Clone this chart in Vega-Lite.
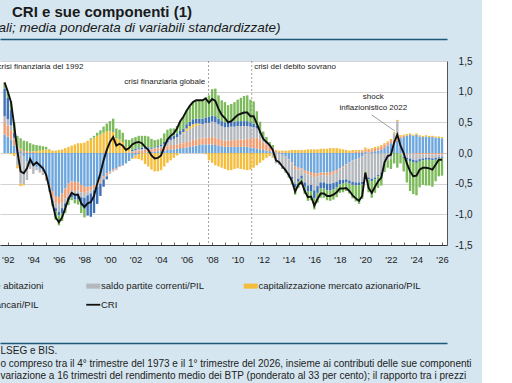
{
"$schema": "https://vega.github.io/schema/vega-lite/v6.json",
"width": 447, "height": 184,
"autosize": {"type": "none"},
"padding": {"left": 0, "top": 61, "right": 35, "bottom": 138},
"background": "#d5e6f0",
"config": {"font": "Liberation Sans", "view": {"fill": "white", "stroke": null}, "axisY": {"labelOverlap": false}, "axis": {"labelOverlap": false}},
"title": {"text": "CRI e sue componenti (1)", "subtitle": "(dati trimestrali; media ponderata di variabili standardizzate)", "anchor": "middle", "dx": -121.5, "font": "Liberation Sans", "fontSize": 15, "fontWeight": "bold", "color": "#1a1a1a", "subtitleFont": "Liberation Sans", "subtitleFontSize": 13.5, "subtitleFontStyle": "italic", "subtitleColor": "#1a1a1a", "offset": 5, "subtitlePadding": 1},
"datasets": {
"ord": [
{"comp": "abitazioni", "label": "prezzi delle abitazioni", "o": 1},
{"comp": "btp", "label": "variazione rendimento BTP", "o": 2},
{"comp": "saldo", "label": "saldo partite correnti/PIL", "o": 3},
{"comp": "borsa", "label": "capitalizzazione mercato azionario/PIL", "o": 4},
{"comp": "famiglie", "label": "debito delle famiglie/PIL", "o": 5},
{"comp": "credito", "label": "impieghi bancari/PIL", "o": 6}
],
"eventi": [{"t": 2007.72}, {"t": 2011.1}],
"note_sx": [{"t": 1991.2, "v": 1.407, "testo": "crisi finanziaria del 1992"}, {"t": 2011.29, "v": 1.407, "testo": "crisi del debito sovrano"}],
"note_dx": [{"t": 2007.46, "v": 1.15, "testo": "crisi finanziaria globale"}],
"note_c": [{"t": 2020.62, "v": 0.92, "testo": "shock"}, {"t": 2020.62, "v": 0.73, "testo": "inflazionistico 2022"}],
"freccia": [{"t": 2020.5, "v": 0.62, "t2": 2022.3, "v2": 0.36}],
"q": [
{"t":1991.75,"abitazioni":0.30,"btp":0.20,"saldo":0.10,"borsa":0,"famiglie":0.45,"credito":0.10,"cri":1.15},
{"t":1992.0,"abitazioni":0.27,"btp":0.18,"saldo":0.10,"borsa":0,"famiglie":0.35,"credito":0.10,"cri":1.00},
{"t":1992.25,"abitazioni":0.22,"btp":0.15,"saldo":0.08,"borsa":-0.02,"famiglie":0.25,"credito":0.15,"cri":0.83},
{"t":1992.5,"abitazioni":0.12,"btp":0.10,"saldo":0.03,"borsa":-0.05,"famiglie":0.08,"credito":0.17,"cri":0.45},
{"t":1992.75,"abitazioni":0.06,"btp":0.05,"saldo":-0.20,"borsa":-0.05,"famiglie":0,"credito":0.17,"cri":0.03},
{"t":1993.0,"abitazioni":0.03,"btp":0.04,"saldo":-0.50,"borsa":-0.04,"famiglie":0,"credito":0.17,"cri":-0.30},
{"t":1993.25,"abitazioni":-0.06,"btp":0.03,"saldo":-0.45,"borsa":-0.02,"famiglie":0,"credito":0.17,"cri":-0.33},
{"t":1993.5,"abitazioni":-0.14,"btp":0.03,"saldo":-0.30,"borsa":0,"famiglie":0,"credito":0.16,"cri":-0.25},
{"t":1993.75,"abitazioni":-0.18,"btp":0.02,"saldo":-0.08,"borsa":0,"famiglie":0,"credito":0.14,"cri":-0.10},
{"t":1994.0,"abitazioni":-0.22,"btp":0.02,"saldo":-0.12,"borsa":0.01,"famiglie":0,"credito":0.11,"cri":-0.20},
{"t":1994.25,"abitazioni":-0.23,"btp":0,"saldo":-0.05,"borsa":0.03,"famiglie":0,"credito":0.10,"cri":-0.15},
{"t":1994.5,"abitazioni":-0.26,"btp":0,"saldo":-0.06,"borsa":0.04,"famiglie":0,"credito":0.08,"cri":-0.20},
{"t":1994.75,"abitazioni":-0.30,"btp":-0.02,"saldo":-0.04,"borsa":0.05,"famiglie":0,"credito":0.06,"cri":-0.25},
{"t":1995.0,"abitazioni":-0.38,"btp":-0.04,"saldo":-0.03,"borsa":0.06,"famiglie":0,"credito":0.04,"cri":-0.35},
{"t":1995.25,"abitazioni":-0.52,"btp":-0.06,"saldo":-0.05,"borsa":0.05,"famiglie":0,"credito":0.01,"cri":-0.57},
{"t":1995.5,"abitazioni":-0.62,"btp":-0.08,"saldo":-0.08,"borsa":0.04,"famiglie":-0.03,"credito":-0.05,"cri":-0.82},
{"t":1995.75,"abitazioni":-0.70,"btp":-0.10,"saldo":-0.10,"borsa":0.04,"famiglie":-0.05,"credito":-0.14,"cri":-1.05},
{"t":1996.0,"abitazioni":-0.72,"btp":-0.12,"saldo":-0.12,"borsa":0.05,"famiglie":-0.06,"credito":-0.16,"cri":-1.13},
{"t":1996.25,"abitazioni":-0.66,"btp":-0.14,"saldo":-0.10,"borsa":0.06,"famiglie":-0.08,"credito":-0.13,"cri":-1.05},
{"t":1996.5,"abitazioni":-0.58,"btp":-0.16,"saldo":-0.08,"borsa":0.08,"famiglie":-0.06,"credito":-0.10,"cri":-0.90},
{"t":1996.75,"abitazioni":-0.50,"btp":-0.17,"saldo":-0.05,"borsa":0.10,"famiglie":-0.05,"credito":-0.08,"cri":-0.75},
{"t":1997.0,"abitazioni":-0.46,"btp":-0.16,"saldo":-0.05,"borsa":0.12,"famiglie":-0.05,"credito":-0.05,"cri":-0.65},
{"t":1997.25,"abitazioni":-0.47,"btp":-0.15,"saldo":-0.06,"borsa":0.14,"famiglie":-0.08,"credito":-0.06,"cri":-0.68},
{"t":1997.5,"abitazioni":-0.48,"btp":-0.13,"saldo":-0.05,"borsa":0.16,"famiglie":-0.10,"credito":-0.08,"cri":-0.68},
{"t":1997.75,"abitazioni":-0.52,"btp":-0.12,"saldo":-0.08,"borsa":0.16,"famiglie":-0.14,"credito":-0.12,"cri":-0.82},
{"t":1998.0,"abitazioni":-0.55,"btp":-0.10,"saldo":-0.08,"borsa":0.17,"famiglie":-0.18,"credito":-0.14,"cri":-0.88},
{"t":1998.25,"abitazioni":-0.55,"btp":-0.08,"saldo":-0.06,"borsa":0.20,"famiglie":-0.33,"credito":0,"cri":-0.82},
{"t":1998.5,"abitazioni":-0.55,"btp":-0.06,"saldo":-0.05,"borsa":0.22,"famiglie":-0.38,"credito":0.02,"cri":-0.80},
{"t":1998.75,"abitazioni":-0.52,"btp":-0.05,"saldo":-0.04,"borsa":0.25,"famiglie":-0.37,"credito":0.03,"cri":-0.70},
{"t":1999.0,"abitazioni":-0.48,"btp":-0.04,"saldo":-0.03,"borsa":0.28,"famiglie":-0.28,"credito":0.05,"cri":-0.50},
{"t":1999.25,"abitazioni":-0.43,"btp":-0.04,"saldo":-0.03,"borsa":0.30,"famiglie":-0.20,"credito":0.07,"cri":-0.33},
{"t":1999.5,"abitazioni":-0.38,"btp":-0.03,"saldo":-0.02,"borsa":0.33,"famiglie":-0.12,"credito":0.10,"cri":-0.12},
{"t":1999.75,"abitazioni":-0.33,"btp":-0.03,"saldo":-0.02,"borsa":0.35,"famiglie":-0.05,"credito":0.13,"cri":0.05},
{"t":2000.0,"abitazioni":-0.30,"btp":-0.02,"saldo":-0.02,"borsa":0.36,"famiglie":0,"credito":0.16,"cri":0.18},
{"t":2000.25,"abitazioni":-0.27,"btp":-0.02,"saldo":-0.01,"borsa":0.35,"famiglie":0.02,"credito":0.19,"cri":0.26},
{"t":2000.5,"abitazioni":-0.25,"btp":-0.02,"saldo":-0.01,"borsa":0.24,"famiglie":0,"credito":0.16,"cri":0.12},
{"t":2000.75,"abitazioni":-0.22,"btp":-0.01,"saldo":0,"borsa":0.22,"famiglie":0,"credito":0.16,"cri":0.15},
{"t":2001.0,"abitazioni":-0.20,"btp":-0.01,"saldo":0,"borsa":0.18,"famiglie":0,"credito":0.15,"cri":0.12},
{"t":2001.25,"abitazioni":-0.17,"btp":0,"saldo":0,"borsa":0.10,"famiglie":0,"credito":0.12,"cri":0.05},
{"t":2001.5,"abitazioni":-0.13,"btp":0.01,"saldo":0.01,"borsa":0.05,"famiglie":0,"credito":0.14,"cri":0.08},
{"t":2001.75,"abitazioni":-0.08,"btp":0.02,"saldo":0.01,"borsa":-0.02,"famiglie":0.02,"credito":0.19,"cri":0.14},
{"t":2002.0,"abitazioni":-0.04,"btp":0.03,"saldo":0.02,"borsa":-0.05,"famiglie":0.02,"credito":0.19,"cri":0.17},
{"t":2002.25,"abitazioni":-0.02,"btp":0.04,"saldo":0.03,"borsa":-0.08,"famiglie":0.02,"credito":0.19,"cri":0.18},
{"t":2002.5,"abitazioni":0,"btp":0.04,"saldo":0.02,"borsa":-0.12,"famiglie":0.03,"credito":0.19,"cri":0.16},
{"t":2002.75,"abitazioni":0.01,"btp":0.04,"saldo":0.02,"borsa":-0.18,"famiglie":0.03,"credito":0.18,"cri":0.10},
{"t":2003.0,"abitazioni":0.02,"btp":0.04,"saldo":0.01,"borsa":-0.22,"famiglie":0.02,"credito":0.18,"cri":0.05},
{"t":2003.25,"abitazioni":0.02,"btp":0.04,"saldo":0.01,"borsa":-0.27,"famiglie":0.02,"credito":0.14,"cri":-0.04},
{"t":2003.5,"abitazioni":0.02,"btp":0.05,"saldo":0.01,"borsa":-0.30,"famiglie":0.01,"credito":0.12,"cri":-0.09},
{"t":2003.75,"abitazioni":0.03,"btp":0.05,"saldo":0.02,"borsa":-0.30,"famiglie":0.02,"credito":0.10,"cri":-0.08},
{"t":2004.0,"abitazioni":0.03,"btp":0.05,"saldo":0.03,"borsa":-0.28,"famiglie":0.03,"credito":0.10,"cri":-0.04},
{"t":2004.25,"abitazioni":0.04,"btp":0.06,"saldo":0.04,"borsa":-0.22,"famiglie":0.04,"credito":0.14,"cri":0.10},
{"t":2004.5,"abitazioni":0.05,"btp":0.06,"saldo":0.06,"borsa":-0.16,"famiglie":0.05,"credito":0.16,"cri":0.22},
{"t":2004.75,"abitazioni":0.06,"btp":0.07,"saldo":0.08,"borsa":-0.12,"famiglie":0.05,"credito":0.14,"cri":0.28},
{"t":2005.0,"abitazioni":0.06,"btp":0.07,"saldo":0.10,"borsa":-0.08,"famiglie":0.05,"credito":0.12,"cri":0.32},
{"t":2005.25,"abitazioni":0.07,"btp":0.07,"saldo":0.12,"borsa":-0.04,"famiglie":0.06,"credito":0.12,"cri":0.40},
{"t":2005.5,"abitazioni":0.08,"btp":0.08,"saldo":0.14,"borsa":0,"famiglie":0.06,"credito":0.16,"cri":0.52},
{"t":2005.75,"abitazioni":0.08,"btp":0.08,"saldo":0.16,"borsa":0.02,"famiglie":0.06,"credito":0.19,"cri":0.59},
{"t":2006.0,"abitazioni":0.09,"btp":0.09,"saldo":0.18,"borsa":0.04,"famiglie":0.07,"credito":0.22,"cri":0.69},
{"t":2006.25,"abitazioni":0.10,"btp":0.09,"saldo":0.20,"borsa":0.05,"famiglie":0.07,"credito":0.26,"cri":0.77},
{"t":2006.5,"abitazioni":0.11,"btp":0.10,"saldo":0.21,"borsa":0.05,"famiglie":0.08,"credito":0.28,"cri":0.83},
{"t":2006.75,"abitazioni":0.12,"btp":0.10,"saldo":0.22,"borsa":0.04,"famiglie":0.08,"credito":0.30,"cri":0.86},
{"t":2007.0,"abitazioni":0.13,"btp":0.10,"saldo":0.23,"borsa":0.02,"famiglie":0.08,"credito":0.30,"cri":0.86},
{"t":2007.25,"abitazioni":0.14,"btp":0.10,"saldo":0.23,"borsa":0,"famiglie":0.09,"credito":0.30,"cri":0.86},
{"t":2007.5,"abitazioni":0.14,"btp":0.11,"saldo":0.24,"borsa":-0.02,"famiglie":0.09,"credito":0.33,"cri":0.89},
{"t":2007.75,"abitazioni":0.14,"btp":0.11,"saldo":0.24,"borsa":-0.12,"famiglie":0.10,"credito":0.35,"cri":0.82},
{"t":2008.0,"abitazioni":0.14,"btp":0.12,"saldo":0.25,"borsa":-0.16,"famiglie":0.10,"credito":0.43,"cri":0.88},
{"t":2008.25,"abitazioni":0.13,"btp":0.12,"saldo":0.25,"borsa":-0.20,"famiglie":0.10,"credito":0.45,"cri":0.85},
{"t":2008.5,"abitazioni":0.12,"btp":0.11,"saldo":0.24,"borsa":-0.22,"famiglie":0.09,"credito":0.38,"cri":0.72},
{"t":2008.75,"abitazioni":0.11,"btp":0.10,"saldo":0.23,"borsa":-0.24,"famiglie":0.08,"credito":0.34,"cri":0.62},
{"t":2009.0,"abitazioni":0.10,"btp":0.10,"saldo":0.22,"borsa":-0.26,"famiglie":0.08,"credito":0.33,"cri":0.57},
{"t":2009.25,"abitazioni":0.10,"btp":0.10,"saldo":0.22,"borsa":-0.28,"famiglie":0.07,"credito":0.29,"cri":0.50},
{"t":2009.5,"abitazioni":0.10,"btp":0.11,"saldo":0.22,"borsa":-0.28,"famiglie":0.08,"credito":0.29,"cri":0.52},
{"t":2009.75,"abitazioni":0.10,"btp":0.11,"saldo":0.22,"borsa":-0.26,"famiglie":0.08,"credito":0.32,"cri":0.57},
{"t":2010.0,"abitazioni":0.10,"btp":0.12,"saldo":0.22,"borsa":-0.25,"famiglie":0.08,"credito":0.35,"cri":0.62},
{"t":2010.25,"abitazioni":0.10,"btp":0.12,"saldo":0.22,"borsa":-0.26,"famiglie":0.08,"credito":0.38,"cri":0.64},
{"t":2010.5,"abitazioni":0.10,"btp":0.12,"saldo":0.22,"borsa":-0.27,"famiglie":0.08,"credito":0.41,"cri":0.66},
{"t":2010.75,"abitazioni":0.10,"btp":0.13,"saldo":0.21,"borsa":-0.28,"famiglie":0.08,"credito":0.42,"cri":0.66},
{"t":2011.0,"abitazioni":0.09,"btp":0.14,"saldo":0.20,"borsa":-0.27,"famiglie":0.07,"credito":0.37,"cri":0.60},
{"t":2011.25,"abitazioni":0.08,"btp":0.16,"saldo":0.18,"borsa":-0.24,"famiglie":0.06,"credito":0.36,"cri":0.60},
{"t":2011.5,"abitazioni":0.07,"btp":0.18,"saldo":0.15,"borsa":-0.20,"famiglie":0.05,"credito":0.23,"cri":0.48},
{"t":2011.75,"abitazioni":0.06,"btp":0.16,"saldo":0.10,"borsa":-0.16,"famiglie":0.04,"credito":0.15,"cri":0.35},
{"t":2012.0,"abitazioni":0.05,"btp":0.12,"saldo":0.06,"borsa":-0.12,"famiglie":0.03,"credito":0.09,"cri":0.23},
{"t":2012.25,"abitazioni":0.04,"btp":0.10,"saldo":0.03,"borsa":-0.08,"famiglie":0.02,"credito":0.07,"cri":0.18},
{"t":2012.5,"abitazioni":0.03,"btp":0.08,"saldo":0,"borsa":-0.05,"famiglie":0.02,"credito":0.05,"cri":0.13},
{"t":2012.75,"abitazioni":0.02,"btp":0.06,"saldo":-0.06,"borsa":-0.02,"famiglie":0.01,"credito":0.04,"cri":0.05},
{"t":2013.0,"abitazioni":0.01,"btp":0.03,"saldo":-0.17,"borsa":0.01,"famiglie":0,"credito":0,"cri":-0.12},
{"t":2013.25,"abitazioni":0,"btp":0.02,"saldo":-0.18,"borsa":0.02,"famiglie":0,"credito":-0.01,"cri":-0.15},
{"t":2013.5,"abitazioni":-0.03,"btp":0.01,"saldo":-0.20,"borsa":0.03,"famiglie":-0.01,"credito":-0.02,"cri":-0.22},
{"t":2013.75,"abitazioni":-0.06,"btp":0,"saldo":-0.22,"borsa":0.04,"famiglie":-0.02,"credito":-0.02,"cri":-0.28},
{"t":2014.0,"abitazioni":-0.10,"btp":-0.01,"saldo":-0.22,"borsa":0.04,"famiglie":-0.03,"credito":-0.04,"cri":-0.36},
{"t":2014.25,"abitazioni":-0.15,"btp":-0.02,"saldo":-0.22,"borsa":0.05,"famiglie":-0.04,"credito":-0.08,"cri":-0.46},
{"t":2014.5,"abitazioni":-0.22,"btp":-0.04,"saldo":-0.24,"borsa":0.05,"famiglie":-0.06,"credito":-0.12,"cri":-0.63},
{"t":2014.75,"abitazioni":-0.24,"btp":-0.03,"saldo":-0.15,"borsa":0.05,"famiglie":-0.05,"credito":-0.10,"cri":-0.52},
{"t":2015.0,"abitazioni":-0.25,"btp":-0.02,"saldo":-0.10,"borsa":0.05,"famiglie":-0.05,"credito":-0.10,"cri":-0.47},
{"t":2015.25,"abitazioni":-0.28,"btp":-0.04,"saldo":-0.16,"borsa":0.05,"famiglie":-0.07,"credito":-0.12,"cri":-0.62},
{"t":2015.5,"abitazioni":-0.30,"btp":-0.05,"saldo":-0.18,"borsa":0.06,"famiglie":-0.10,"credito":-0.15,"cri":-0.72},
{"t":2015.75,"abitazioni":-0.31,"btp":-0.05,"saldo":-0.16,"borsa":0.06,"famiglie":-0.10,"credito":-0.15,"cri":-0.71},
{"t":2016.0,"abitazioni":-0.33,"btp":-0.06,"saldo":-0.22,"borsa":0.06,"famiglie":-0.13,"credito":-0.18,"cri":-0.86},
{"t":2016.25,"abitazioni":-0.33,"btp":-0.05,"saldo":-0.16,"borsa":0.06,"famiglie":-0.11,"credito":-0.16,"cri":-0.75},
{"t":2016.5,"abitazioni":-0.32,"btp":-0.04,"saldo":-0.12,"borsa":0.07,"famiglie":-0.10,"credito":-0.15,"cri":-0.66},
{"t":2016.75,"abitazioni":-0.32,"btp":-0.04,"saldo":-0.12,"borsa":0.07,"famiglie":-0.10,"credito":-0.15,"cri":-0.66},
{"t":2017.0,"abitazioni":-0.32,"btp":-0.05,"saldo":-0.13,"borsa":0.07,"famiglie":-0.11,"credito":-0.16,"cri":-0.70},
{"t":2017.25,"abitazioni":-0.31,"btp":-0.05,"saldo":-0.14,"borsa":0.08,"famiglie":-0.11,"credito":-0.17,"cri":-0.70},
{"t":2017.5,"abitazioni":-0.30,"btp":-0.04,"saldo":-0.15,"borsa":0.08,"famiglie":-0.10,"credito":-0.17,"cri":-0.68},
{"t":2017.75,"abitazioni":-0.28,"btp":-0.03,"saldo":-0.16,"borsa":0.08,"famiglie":-0.09,"credito":-0.16,"cri":-0.64},
{"t":2018.0,"abitazioni":-0.25,"btp":-0.02,"saldo":-0.17,"borsa":0.07,"famiglie":-0.07,"credito":-0.14,"cri":-0.58},
{"t":2018.25,"abitazioni":-0.22,"btp":-0.02,"saldo":-0.20,"borsa":0.06,"famiglie":-0.06,"credito":-0.14,"cri":-0.58},
{"t":2018.5,"abitazioni":-0.18,"btp":-0.01,"saldo":-0.24,"borsa":0.05,"famiglie":-0.05,"credito":-0.14,"cri":-0.57},
{"t":2018.75,"abitazioni":-0.15,"btp":0,"saldo":-0.30,"borsa":0.04,"famiglie":-0.05,"credito":-0.16,"cri":-0.62},
{"t":2019.0,"abitazioni":-0.12,"btp":0.01,"saldo":-0.35,"borsa":0.04,"famiglie":-0.05,"credito":-0.22,"cri":-0.69},
{"t":2019.25,"abitazioni":-0.10,"btp":0.02,"saldo":-0.38,"borsa":0.03,"famiglie":-0.05,"credito":-0.26,"cri":-0.74},
{"t":2019.5,"abitazioni":-0.08,"btp":0.03,"saldo":-0.40,"borsa":0.02,"famiglie":-0.05,"credito":-0.30,"cri":-0.78},
{"t":2019.75,"abitazioni":-0.05,"btp":0.03,"saldo":-0.42,"borsa":0.02,"famiglie":-0.04,"credito":-0.24,"cri":-0.70},
{"t":2020.0,"abitazioni":0.02,"btp":0.04,"saldo":-0.30,"borsa":0.03,"famiglie":0,"credito":-0.11,"cri":-0.32},
{"t":2020.25,"abitazioni":0.01,"btp":0.04,"saldo":-0.40,"borsa":0.02,"famiglie":-0.03,"credito":-0.21,"cri":-0.57},
{"t":2020.5,"abitazioni":0.02,"btp":0.04,"saldo":-0.42,"borsa":0.02,"famiglie":-0.04,"credito":-0.27,"cri":-0.65},
{"t":2020.75,"abitazioni":0.03,"btp":0.05,"saldo":-0.40,"borsa":0.02,"famiglie":-0.03,"credito":-0.22,"cri":-0.55},
{"t":2021.0,"abitazioni":0.04,"btp":0.05,"saldo":-0.36,"borsa":0.02,"famiglie":-0.02,"credito":-0.19,"cri":-0.46},
{"t":2021.25,"abitazioni":0.05,"btp":0.06,"saldo":-0.32,"borsa":0.02,"famiglie":-0.02,"credito":-0.19,"cri":-0.40},
{"t":2021.5,"abitazioni":0.08,"btp":0.06,"saldo":-0.18,"borsa":0.02,"famiglie":0,"credito":-0.13,"cri":-0.15},
{"t":2021.75,"abitazioni":0.12,"btp":0.05,"saldo":-0.12,"borsa":0.02,"famiglie":0,"credito":-0.12,"cri":-0.05},
{"t":2022.0,"abitazioni":0.16,"btp":0.05,"saldo":-0.10,"borsa":0.02,"famiglie":0,"credito":-0.16,"cri":-0.03},
{"t":2022.25,"abitazioni":0.18,"btp":0.04,"saldo":0.10,"borsa":0.02,"famiglie":0,"credito":-0.17,"cri":0.17},
{"t":2022.5,"abitazioni":0.20,"btp":0.04,"saldo":0.28,"borsa":0.02,"famiglie":0,"credito":-0.24,"cri":0.30},
{"t":2022.75,"abitazioni":0.24,"btp":0.03,"saldo":-0.02,"borsa":0.02,"famiglie":0,"credito":-0.15,"cri":0.12},
{"t":2023.0,"abitazioni":0.26,"btp":0.02,"saldo":-0.06,"borsa":0.02,"famiglie":-0.02,"credito":-0.22,"cri":0},
{"t":2023.25,"abitazioni":0.28,"btp":0.01,"saldo":-0.08,"borsa":0.02,"famiglie":-0.03,"credito":-0.37,"cri":-0.17},
{"t":2023.5,"abitazioni":0.30,"btp":0,"saldo":-0.09,"borsa":0.02,"famiglie":-0.04,"credito":-0.49,"cri":-0.30},
{"t":2023.75,"abitazioni":0.28,"btp":-0.01,"saldo":-0.10,"borsa":0.02,"famiglie":-0.04,"credito":-0.52,"cri":-0.38},
{"t":2024.0,"abitazioni":0.30,"btp":-0.02,"saldo":-0.10,"borsa":0.02,"famiglie":-0.04,"credito":-0.53,"cri":-0.37},
{"t":2024.25,"abitazioni":0.27,"btp":-0.02,"saldo":-0.08,"borsa":0.02,"famiglie":-0.03,"credito":-0.43,"cri":-0.27},
{"t":2024.5,"abitazioni":0.26,"btp":-0.02,"saldo":-0.07,"borsa":0.02,"famiglie":-0.03,"credito":-0.40,"cri":-0.24},
{"t":2024.75,"abitazioni":0.27,"btp":-0.02,"saldo":-0.06,"borsa":0.02,"famiglie":-0.03,"credito":-0.42,"cri":-0.24},
{"t":2025.0,"abitazioni":0.26,"btp":-0.02,"saldo":-0.06,"borsa":0.02,"famiglie":-0.03,"credito":-0.42,"cri":-0.25},
{"t":2025.25,"abitazioni":0.26,"btp":-0.02,"saldo":-0.07,"borsa":0.02,"famiglie":-0.03,"credito":-0.43,"cri":-0.27},
{"t":2025.5,"abitazioni":0.25,"btp":-0.02,"saldo":-0.06,"borsa":0.02,"famiglie":-0.03,"credito":-0.35,"cri":-0.19},
{"t":2025.75,"abitazioni":0.25,"btp":-0.02,"saldo":-0.05,"borsa":0.02,"famiglie":-0.02,"credito":-0.29,"cri":-0.11},
{"t":2026.0,"abitazioni":0.24,"btp":-0.02,"saldo":-0.05,"borsa":0.02,"famiglie":-0.02,"credito":-0.28,"cri":-0.11}
]
},
"layer": [
{
"data": {"name": "eventi"},
"mark": {"type": "rule", "color": "#8a8a8a", "strokeWidth": 0.8, "strokeDash": [2, 2]},
"encoding": {
"x": {"field": "t", "type": "quantitative", "scale": {"domain": [1991.78, 2026], "nice": false, "zero": false},
"axis": {"orient": "bottom", "offset": 98, "domain": true, "domainColor": "#1f5877", "domainWidth": 1.5, "ticks": false, "labels": false, "grid": false,
"title": ["LSEG e BIS.", "o compreso tra il 4° trimestre del 1973 e il 1° trimestre del 2026, insieme ai contributi delle sue componenti", "variazione a 16 trimestri del rendimento medio dei BTP (ponderato al 33 per cento); il rapporto tra i prezzi"],
"titleAnchor": "start", "titleAlign": "left", "titleBaseline": "top", "titleX": 0, "titleY": 2.5, "titleFont": "Liberation Sans", "titleFontSize": 10, "titleFontWeight": "normal", "titleColor": "#222222", "titleLineHeight": 12.5, "titleLimit": 2000, "titlePadding": 0}}
}
},
{
"data": {"name": "q"},
"transform": [
{"fold": ["abitazioni", "btp", "saldo", "borsa", "famiglie", "credito"], "as": ["comp", "val"]},
{"lookup": "comp", "from": {"data": {"name": "ord"}, "key": "comp", "fields": ["label", "o"]}}
],
"mark": {"type": "bar", "size": 2.4, "orient": "vertical"},
"encoding": {
"x": {"field": "t", "type": "quantitative", "scale": {"domain": [1991.78, 2026], "nice": false, "zero": false},
"axis": {"orient": "bottom", "values": [1992,1993,1994,1995,1996,1997,1998,1999,2000,2001,2002,2003,2004,2005,2006,2007,2008,2009,2010,2011,2012,2013,2014,2015,2016,2017,2018,2019,2020,2021,2022,2023,2024,2025,2026],
"labelExpr": "datum.value % 2 == 0 ? \"'\" + slice('' + datum.value, 2) : ''",
"tickSize": -3, "tickColor": "#444444", "tickWidth": 0.8, "domainColor": "#333333", "domainWidth": 1, "labelFont": "Liberation Sans", "labelFontSize": 9.5, "labelColor": "#222222", "labelPadding": 12, "labelFlush": false, "labelOverlap": false, "grid": false, "title": null}},
"y": {"field": "val", "type": "quantitative", "stack": "zero", "scale": {"domain": [-1.5, 1.5], "nice": false},
"axis": {"orient": "right", "values": [-1.5, -1, -0.5, 0, 0.5, 1, 1.5],
"labelExpr": "(datum.value < 0 ? '-' : '') + replace(format(abs(datum.value), '.1f'), '.', ',')",
"grid": true, "gridColor": "#c8c8c8", "gridWidth": 0.8, "ticks": false, "domain": true, "domainColor": "#555555", "domainWidth": 1,
"labelAlign": "right", "labelPadding": 25, "labelOverlap": false, "labelFlush": false, "labelFont": "Liberation Sans", "labelFontSize": 10, "labelColor": "#222222", "title": null}},
"color": {"field": "label", "type": "nominal",
"scale": {"domain": ["prezzi delle abitazioni", "saldo partite correnti/PIL", "capitalizzazione mercato azionario/PIL", "impieghi bancari/PIL", "CRI", "variazione rendimento BTP", "debito delle famiglie/PIL"],
"range": ["#6ea7dd", "#b5b8bc", "#f4bd3c", "#7cba5c", "#111111", "#f29d72", "#3f72b8"]},
"legend": {"orient": "none", "direction": "horizontal", "legendX": -60, "legendY": 220, "columns": 3, "gridAlign": "each", "columnPadding": 38.5, "rowPadding": 8, "title": null, "padding": 0,
"values": ["prezzi delle abitazioni", "saldo partite correnti/PIL", "capitalizzazione mercato azionario/PIL", "impieghi bancari/PIL", "CRI"],
"symbolType": "M-1,-0.36H1V0.36H-1Z", "symbolSize": 196, "symbolStrokeWidth": 0,
"labelFont": "Liberation Sans", "labelFontSize": 9.5, "labelColor": "#222222", "labelOffset": 3, "labelLimit": 400,
"encode": {"symbols": {"update": {
"shape": {"signal": "datum.value === 'CRI' ? 'stroke' : 'M-1,-0.36H1V0.36H-1Z'"},
"fill": {"signal": "datum.value === 'CRI' ? 'transparent' : scale('color', datum.value)"},
"stroke": {"signal": "datum.value === 'CRI' ? '#111111' : 'transparent'"},
"strokeWidth": {"signal": "datum.value === 'CRI' ? 1.8 : 0"}
}}}}},
"order": {"field": "o", "type": "quantitative", "sort": "ascending"}
}
},
{
"data": {"name": "q"},
"mark": {"type": "line", "color": "#111111", "strokeWidth": 1.9},
"encoding": {
"x": {"field": "t", "type": "quantitative", "scale": {"domain": [1991.78, 2026], "nice": false, "zero": false},
"axis": {"orient": "top", "offset": 22, "domain": true, "domainColor": "#1f5877", "domainWidth": 1.5, "ticks": false, "labels": false, "grid": false, "title": null}},
"y": {"field": "cri", "type": "quantitative", "scale": {"domain": [-1.5, 1.5], "nice": false}, "axis": {"labelOverlap": false, "orient": "right", "values": [-1.5, -1, -0.5, 0, 0.5, 1, 1.5]}}
}
},
{
"data": {"name": "freccia"},
"mark": {"type": "rule", "color": "#777777", "strokeWidth": 0.7},
"encoding": {
"x": {"field": "t", "type": "quantitative", "scale": {"domain": [1991.78, 2026], "nice": false, "zero": false}, "axis": null},
"y": {"field": "v", "type": "quantitative", "scale": {"domain": [-1.5, 1.5], "nice": false}, "axis": {"labelOverlap": false, "orient": "right", "values": [-1.5, -1, -0.5, 0, 0.5, 1, 1.5]}},
"x2": {"field": "t2"},
"y2": {"field": "v2"}
}
},
{
"data": {"name": "note_sx"},
"mark": {"type": "text", "align": "left", "baseline": "middle", "font": "Liberation Sans", "fontSize": 8, "color": "#222222"},
"encoding": {
"x": {"field": "t", "type": "quantitative", "scale": {"domain": [1991.78, 2026], "nice": false, "zero": false}, "axis": null},
"y": {"field": "v", "type": "quantitative", "scale": {"domain": [-1.5, 1.5], "nice": false}, "axis": {"labelOverlap": false, "orient": "right", "values": [-1.5, -1, -0.5, 0, 0.5, 1, 1.5]}},
"text": {"field": "testo"}
}
},
{
"data": {"name": "note_dx"},
"mark": {"type": "text", "align": "right", "baseline": "middle", "font": "Liberation Sans", "fontSize": 8, "color": "#222222"},
"encoding": {
"x": {"field": "t", "type": "quantitative", "scale": {"domain": [1991.78, 2026], "nice": false, "zero": false}, "axis": null},
"y": {"field": "v", "type": "quantitative", "scale": {"domain": [-1.5, 1.5], "nice": false}, "axis": {"labelOverlap": false, "orient": "right", "values": [-1.5, -1, -0.5, 0, 0.5, 1, 1.5]}},
"text": {"field": "testo"}
}
},
{
"data": {"name": "note_c"},
"mark": {"type": "text", "align": "center", "baseline": "middle", "font": "Liberation Sans", "fontSize": 8, "color": "#222222"},
"encoding": {
"x": {"field": "t", "type": "quantitative", "scale": {"domain": [1991.78, 2026], "nice": false, "zero": false}, "axis": null},
"y": {"field": "v", "type": "quantitative", "scale": {"domain": [-1.5, 1.5], "nice": false}, "axis": {"labelOverlap": false, "orient": "right", "values": [-1.5, -1, -0.5, 0, 0.5, 1, 1.5]}},
"text": {"field": "testo"}
}
}
],
"resolve": {"axis": {"x": "independent"}}
}
